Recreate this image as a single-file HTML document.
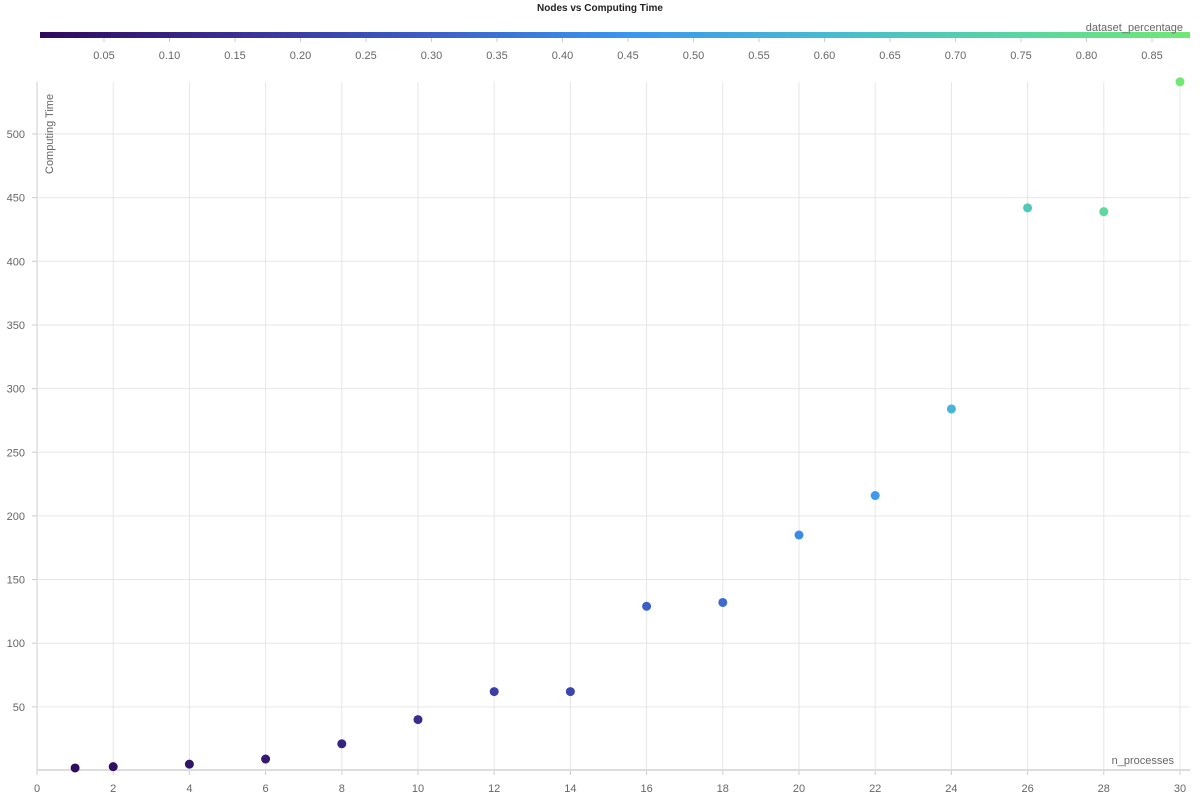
<!DOCTYPE html>
<html><head><meta charset="utf-8"><style>
body{margin:0;background:#fff;font-family:"Liberation Sans",sans-serif;}
svg text{font-family:"Liberation Sans",sans-serif;}
</style></head><body>
<svg id="chart" width="1200" height="800" xmlns="http://www.w3.org/2000/svg">
<defs>
<linearGradient id="cmap" x1="0" x2="1" y1="0" y2="0">
<stop offset="0" stop-color="#2f0a5c"/>
<stop offset="0.17" stop-color="#3b2f94"/>
<stop offset="0.34" stop-color="#3b5fc8"/>
<stop offset="0.51" stop-color="#3a96ef"/>
<stop offset="0.68" stop-color="#46bad2"/>
<stop offset="0.85" stop-color="#58d6a2"/>
<stop offset="1" stop-color="#70e874"/>
</linearGradient>
</defs>
<text x="600" y="11" text-anchor="middle" font-size="10" font-weight="bold" fill="#222">Nodes vs Computing Time</text>
<rect x="40" y="32" width="1150" height="6" fill="url(#cmap)"/>
<text x="1183" y="31" text-anchor="end" font-size="11" fill="#666">dataset_percentage</text>
<g id="cbticks"></g>
<g id="grid"></g>
<g id="axes"></g>
<g id="points"></g>
<text transform="translate(53,174) rotate(-90)" font-size="11" fill="#666">Computing Time</text>
<text x="1174" y="764" text-anchor="end" font-size="11" fill="#666">n_processes</text>
</svg>
<script>
const nProcesses=[1,2,4,6,8,10,12,14,16,18,20,22,24,26,28,30];
const computingTime=[2,3,5,9,21,40,62,62,129,132,185,216,284,442,439,541];
const datasetPct=[0.01,0.02,0.04,0.06,0.1,0.14,0.2,0.22,0.3,0.33,0.42,0.47,0.58,0.68,0.77,0.88];
const xTicks=[0,2,4,6,8,10,12,14,16,18,20,22,24,26,28,30];
const yTicks=[50,100,150,200,250,300,350,400,450,500];
const cbTicks=[0.05,0.10,0.15,0.20,0.25,0.30,0.35,0.40,0.45,0.50,0.55,0.60,0.65,0.70,0.75,0.80,0.85];
const NS="http://www.w3.org/2000/svg";
const xS=v=>37+v*(1180-37)/30;
const yS=v=>770.5-v*(770.5-134)/500;
const cS=v=>38.5+v*1310;
const stops=[[0,[47,10,92]],[0.15,[59,47,148]],[0.3,[59,95,200]],[0.45,[58,150,239]],[0.6,[70,186,210]],[0.75,[88,214,162]],[0.88,[112,232,116]]];
function col(v){for(let i=1;i<stops.length;i++){if(v<=stops[i][0]){const a=stops[i-1],b=stops[i],t=(v-a[0])/(b[0]-a[0]);return 'rgb('+a[1].map((c,k)=>Math.round(c+(b[1][k]-c)*t)).join(',')+')';}}return 'rgb(112,232,116)';}
function mk(tag,attrs,parent){const e=document.createElementNS(NS,tag);for(const k in attrs)e.setAttribute(k,attrs[k]);document.getElementById(parent).appendChild(e);return e;}
cbTicks.forEach(t=>{
 const l=mk('line',{x1:cS(t),x2:cS(t),y1:38,y2:42,stroke:'#ccc'},'cbticks');
 
 
 const tx=mk('text',{x:cS(t),y:59,'text-anchor':'middle','font-size':'11',fill:'#666'},'cbticks');
 tx.textContent=t.toFixed(2);
 
 
});
xTicks.forEach(t=>{
 if(t>0){const g=mk('line',{x1:xS(t),x2:xS(t),y1:82,y2:770,stroke:'#e6e6e6'},'grid');
 
 }
 const tk=mk('line',{x1:xS(t),x2:xS(t),y1:770,y2:775,stroke:'#ccc'},'axes');
 
 
 const tx=mk('text',{x:xS(t),y:792,'text-anchor':'middle','font-size':'11',fill:'#666'},'axes');
 tx.textContent=t;
 
 
});
yTicks.forEach(t=>{
 const g=mk('line',{x1:37,x2:1190,y1:yS(t),y2:yS(t),stroke:'#e6e6e6'},'grid');
 
 
 const tk=mk('line',{x1:32,x2:37,y1:yS(t),y2:yS(t),stroke:'#ccc'},'axes');
 
 
 const tx=mk('text',{x:25,y:yS(t)+4,'text-anchor':'end','font-size':'11',fill:'#666'},'axes');
 tx.textContent=t;
 
 
});
const ya=mk('line',{x1:37,x2:37,y1:82,y2:770,stroke:'#ddd','stroke-width':1.5},'axes');


const xa=mk('line',{x1:37,x2:1190,y1:770,y2:770,stroke:'#ddd','stroke-width':2},'axes');


nProcesses.forEach((n,i)=>{
 const c=mk('circle',{cx:xS(n),cy:yS(computingTime[i]),r:4.5,fill:col(datasetPct[i])},'points');
 
 
});
</script>
</body></html>
